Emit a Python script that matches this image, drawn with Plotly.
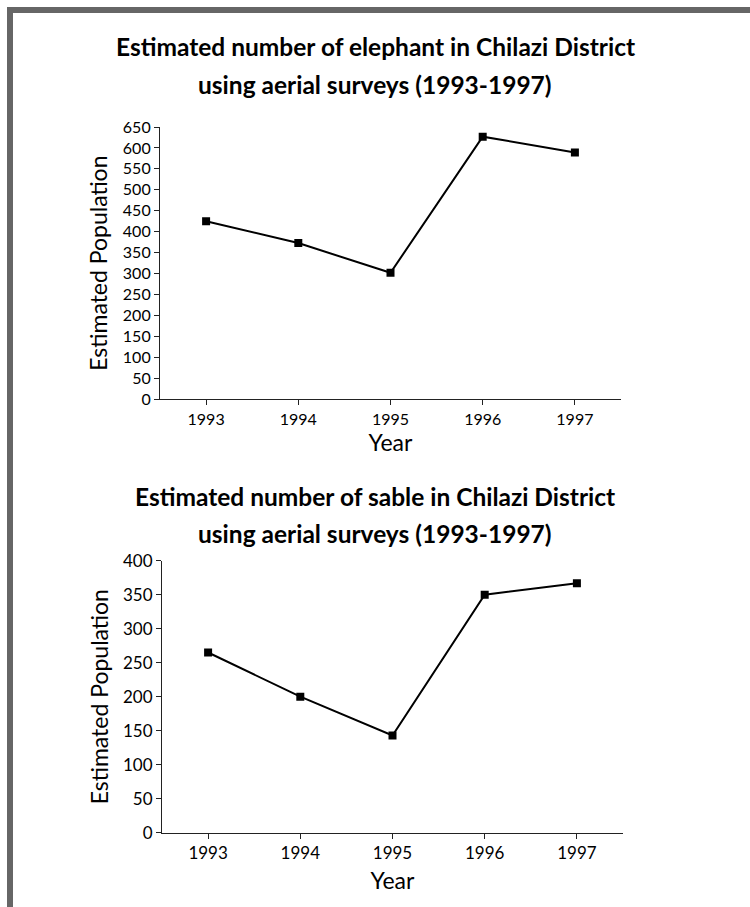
import plotly.graph_objects as go

years = ["1993", "1994", "1995", "1996", "1997"]
elephant = [425, 373, 302, 627, 589]
sable = [265, 200, 143, 350, 367]

elephant_ticks = list(range(0, 651, 50))
sable_ticks = list(range(0, 401, 50))

title_top = ["Estimated number of elephant in Chilazi District",
             "using aerial surveys (1993-1997)"]
title_bottom = ["Estimated number of sable in Chilazi District",
                "using aerial surveys (1993-1997)"]

W, H = 750, 907
FONT = "Lato"

fig = go.Figure()
fig.add_trace(go.Scatter(x=years, y=elephant, mode="lines+markers",
                         line=dict(color="black", width=2),
                         marker=dict(symbol="square", size=8, color="black"),
                         xaxis="x", yaxis="y", showlegend=False))
fig.add_trace(go.Scatter(x=years, y=sable, mode="lines+markers",
                         line=dict(color="black", width=2),
                         marker=dict(symbol="square", size=8, color="black"),
                         xaxis="x2", yaxis="y2", showlegend=False))

axis_common = dict(showline=True, linecolor="#222", linewidth=1.2, showgrid=False,
                   zeroline=False, ticks="outside", ticklen=5, tickcolor="#222",
                   automargin=False)


def title_ann(text, ypx):
    return dict(text="<b>" + text + "</b>", xref="paper", yref="paper",
                x=0.5, y=1 - ypx / H, xanchor="center", yanchor="middle",
                showarrow=False, font=dict(size=24.5, family=FONT))


fig.update_layout(
    width=W, height=H,
    margin=dict(l=0, r=0, t=0, b=0),
    paper_bgcolor="white", plot_bgcolor="white",
    font=dict(family=FONT, color="black"),
    xaxis=dict(domain=[160 / W, 621 / W], anchor="y", type="category",
               range=[-0.5, 4.5], tickfont=dict(size=16),
               title=dict(text="Year", font=dict(size=23), standoff=0),
               **axis_common),
    yaxis=dict(domain=[1 - 399.3 / H, 1 - 127 / H], anchor="x",
               range=[0, 650], tickvals=elephant_ticks, tickfont=dict(size=16),
               title=dict(text="Estimated Population", font=dict(size=23), standoff=8),
               **axis_common),
    xaxis2=dict(domain=[162 / W, 623 / W], anchor="y2", type="category",
                range=[-0.5, 4.5], tickfont=dict(size=17),
                title=dict(text="Year", font=dict(size=23), standoff=10),
                **axis_common),
    yaxis2=dict(domain=[1 - 832.7 / H, 1 - 560.7 / H], anchor="x2",
                range=[0, 400], tickvals=sable_ticks, tickfont=dict(size=17),
                title=dict(text="Estimated Population", font=dict(size=23), standoff=7),
                **axis_common),
    annotations=[
        title_ann(title_top[0], 46),
        title_ann(title_top[1], 84),
        title_ann(title_bottom[0], 496),
        title_ann(title_bottom[1], 533),
    ],
    shapes=[
        dict(type="rect", xref="paper", yref="paper", x0=7 / W, x1=1,
             y0=1 - 13 / H, y1=1 - 7 / H, fillcolor="#666", line=dict(width=0)),
        dict(type="rect", xref="paper", yref="paper", x0=7 / W, x1=13 / W,
             y0=0, y1=1 - 7 / H, fillcolor="#666", line=dict(width=0)),
    ],
)

fig.write_html("out.html", config={"displayModeBar": False},
               post_script="document.body.style.margin='0';document.body.style.overflow='hidden';")
